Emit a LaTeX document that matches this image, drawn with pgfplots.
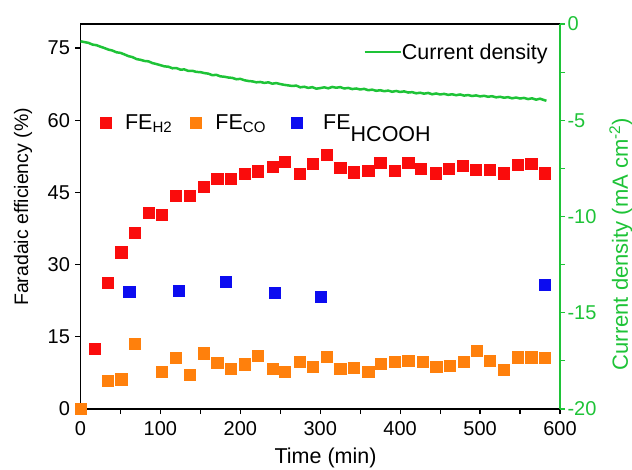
\documentclass[border=0pt]{standalone}
\usepackage{fontspec}
\setmainfont{Liberation Sans}
\usepackage{pgfplots}
\pgfplotsset{compat=1.18}
\definecolor{cred}{RGB}{250,12,12}
\definecolor{corange}{RGB}{255,128,12}
\definecolor{cblue}{RGB}{12,12,240}
\definecolor{cgreen}{RGB}{30,195,55}
\newcommand{\fs}{\fontsize{20}{24}\selectfont}
\newcommand{\fl}{\fontsize{21.5}{25}\selectfont}
\begin{document}
\begin{tikzpicture}
\begin{axis}[
  name=ax,
  width=479.5pt, height=385pt, scale only axis,
  xmin=0, xmax=600, ymin=0, ymax=80,
  xtick={0,100,...,600}, minor xtick={50,150,...,550},
  ytick={0,15,...,75},
  xtick pos=bottom, ytick pos=left, tick align=outside,
  major tick length=5pt, minor tick length=5pt,
  axis line style={line width=1.2pt},
  every tick/.style={black, line width=1.2pt},
  tick label style={font=\fs},
  xticklabel style={yshift=-4pt},
  yticklabel style={xshift=-2pt},
  /pgf/number format/assume math mode=true,
  xlabel={Time (min)}, ylabel={Faradaic efficiency (\%)},
  every axis x label/.style={at={(axis description cs:0.511,-0.127)}, anchor=center, font=\fl},
  every axis y label/.style={at={(axis description cs:-0.12,0.525)}, anchor=center, rotate=90, font=\fontsize{19.5}{23}\selectfont},
  clip=false,
  legend style={at={(0.04,0.743)}, anchor=west, draw=none, fill=none, font=\fl, inner sep=0pt,
    legend columns=3,
    /tikz/every odd column/.append style={column sep=12pt},
    /tikz/every even column/.append style={column sep=16pt}},
  legend cell align=left,
]
\addplot[only marks, mark=square*, mark size=5.6pt, color=cred] coordinates {
(18,12.6) (34,26.2) (51,32.6) (68,36.7) (85,40.75) (102,40.3) (119,44.4) (137,44.4)
(154,46.2) (171,47.8) (188,47.8) (205,48.95) (222,49.4) (240,50.3) (256,51.4) (274,48.95)
(291,51.0) (308,52.9) (325,50.2) (342,49.2) (360,49.5) (375,51.25) (393,49.5) (410,51.1)
(426,49.85) (444,49.0) (461,49.85) (478,50.5) (495,49.7) (512,49.7) (530,49.0) (547,50.75)
(564,50.96) (581,49.0)
};
\addlegendentry{FE\textsubscript{H2}}
\addplot[only marks, mark=square*, mark size=5.6pt, color=corange] coordinates {
(0,0) (34,5.9) (51,6.2) (68,13.5) (102,7.7) (119,10.6) (137,7.1) (154,11.6) (171,9.7)
(188,8.3) (205,9.3) (222,11.0) (240,8.3) (256,7.7) (274,9.8) (291,8.8) (308,10.9)
(325,8.4) (342,8.5) (360,7.8) (376,9.4) (393,9.8) (410,10.1) (428,9.85) (445,8.8)
(462,9.0) (479,9.9) (496,12.1) (512,10.1) (530,8.2) (547,10.75) (564,10.75) (581,10.6)
};
\addlegendentry{FE\textsubscript{CO}\rule{7pt}{0pt}}
\addplot[only marks, mark=square*, mark size=5.6pt, color=cblue] coordinates {
(61,24.3) (123,24.5) (182,26.4) (243,24.2) (301,23.4) (581,25.9)
};
\addlegendentry{\hspace{7pt}FE\raisebox{-0.55em}{HCOOH}}
\end{axis}
\begin{axis}[
  width=479.5pt, height=385pt, scale only axis,
  xmin=0, xmax=600, ymin=-20, ymax=0,
  axis y line*=right, axis x line=none,
  ytick={-20,-15,...,0}, minor ytick={-17.5,-12.5,...,-2.5},
  tick align=outside, major tick length=5pt, minor tick length=5pt,
  axis line style={cgreen, line width=1.2pt},
  every tick/.style={cgreen, line width=1.2pt},
  tick label style={font=\fs, text=cgreen},
  yticklabel style={xshift=-1pt},
  /pgf/number format/assume math mode=true,
  ylabel={Current density (mA cm\textsuperscript{-2})},
  every axis y label/.style={at={(axis description cs:1.127,0.4286)}, anchor=center, rotate=90, font=\fontsize{22}{26}\selectfont, text=cgreen},
  legend style={at={(0.979,0.927)}, anchor=east, draw=none, fill=none, font=\fl, inner sep=0pt,
    /tikz/every odd column/.append style={column sep=-2pt}},
  legend image code/.code={\draw[#1] (0cm,0cm) -- (1.27cm,0cm);},
]
\addplot[cgreen, line width=2.5pt] coordinates {
(0,-0.90) (5,-0.94) (10,-0.98) (15,-1.07) (20,-1.10) (25,-1.18) (30,-1.25) (35,-1.33)
(40,-1.38) (45,-1.47) (50,-1.50) (55,-1.58) (60,-1.67) (65,-1.72) (70,-1.82) (75,-1.86)
(80,-1.92) (85,-1.94) (90,-2.03) (95,-2.08) (100,-2.14) (105,-2.20) (110,-2.22) (115,-2.30)
(120,-2.29) (125,-2.37) (130,-2.36) (135,-2.44) (140,-2.43) (145,-2.49) (150,-2.50) (155,-2.55)
(160,-2.58) (165,-2.66) (170,-2.64) (175,-2.72) (180,-2.74) (185,-2.78) (190,-2.80) (195,-2.87)
(200,-2.85) (205,-2.92) (210,-2.96) (215,-2.98) (220,-3.03) (225,-3.01) (230,-3.06) (235,-3.03)
(240,-3.10) (245,-3.07) (250,-3.12) (255,-3.16) (260,-3.19) (265,-3.22) (270,-3.20) (275,-3.29)
(280,-3.26) (285,-3.32) (290,-3.28) (295,-3.36) (300,-3.33) (305,-3.29) (310,-3.34) (315,-3.27)
(320,-3.31) (325,-3.28) (330,-3.35) (335,-3.32) (340,-3.38) (345,-3.35) (350,-3.40) (355,-3.37)
(360,-3.44) (365,-3.41) (370,-3.47) (375,-3.44) (380,-3.49) (385,-3.46) (390,-3.52) (395,-3.48)
(400,-3.53) (405,-3.50) (410,-3.56) (415,-3.54) (420,-3.60) (425,-3.57) (430,-3.62) (435,-3.58)
(440,-3.65) (445,-3.61) (450,-3.66) (455,-3.63) (460,-3.68) (465,-3.65) (470,-3.70) (475,-3.66)
(480,-3.72) (485,-3.69) (490,-3.74) (495,-3.71) (500,-3.76) (505,-3.73) (510,-3.78) (515,-3.75)
(520,-3.81) (525,-3.78) (530,-3.83) (535,-3.80) (540,-3.86) (545,-3.82) (550,-3.87) (555,-3.84)
(560,-3.90) (565,-3.86) (570,-3.93) (575,-3.88) (580,-3.95) (583,-3.99)
};
\addlegendentry{Current density}
\end{axis}
\pgfresetboundingbox
\path ([shift={(-80.5pt,-60pt)}]ax.south west) rectangle ([shift={(72pt,24pt)}]ax.north east);
\end{tikzpicture}
\end{document}
